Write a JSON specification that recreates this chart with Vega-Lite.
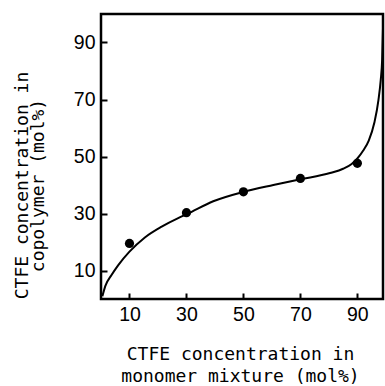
{
  "$schema": "https://vega.github.io/schema/vega-lite/v6.json",
  "autosize": {"type": "none"},
  "padding": {"left": 101, "top": 14, "right": 2, "bottom": 87},
  "width": 282,
  "height": 285,
  "background": "white",
  "config": {
    "view": {"stroke": "black", "strokeWidth": 2.5},
    "axis": {
      "domain": false,
      "grid": false,
      "labelFont": "Liberation Sans",
      "labelFontSize": 19.5,
      "labelColor": "black",
      "titleFont": "DejaVu Sans Mono",
      "titleFontSize": 18,
      "titleFontWeight": "normal",
      "titleColor": "black"
    }
  },
  "datasets": {
    "curve": [
      {"x": 0.5, "y": 1},
      {"x": 1.5, "y": 4.5},
      {"x": 3.7, "y": 8.4},
      {"x": 6, "y": 11.8},
      {"x": 10, "y": 16.6},
      {"x": 15.4, "y": 21.6},
      {"x": 21.3, "y": 25.4},
      {"x": 27.1, "y": 28.4},
      {"x": 30, "y": 29.7},
      {"x": 39.4, "y": 34.3},
      {"x": 50, "y": 37.6},
      {"x": 60.5, "y": 40},
      {"x": 70, "y": 42},
      {"x": 80.4, "y": 44.2},
      {"x": 85, "y": 45.7},
      {"x": 88, "y": 47.4},
      {"x": 90, "y": 49.3},
      {"x": 92, "y": 52},
      {"x": 94, "y": 55.6},
      {"x": 96, "y": 62},
      {"x": 97.4, "y": 69.8},
      {"x": 98.2, "y": 76.8},
      {"x": 98.7, "y": 84},
      {"x": 99, "y": 95}
    ],
    "points": [
      {"x": 10, "y": 19.5},
      {"x": 30, "y": 30.3},
      {"x": 50, "y": 37.6},
      {"x": 70, "y": 42.3},
      {"x": 90, "y": 47.6}
    ]
  },
  "layer": [
    {
      "data": {"name": "curve"},
      "mark": {"type": "line", "color": "black", "strokeWidth": 2, "interpolate": "monotone", "clip": true},
      "encoding": {
        "x": {
          "field": "x", "type": "quantitative",
          "scale": {"domain": [0, 99], "nice": false, "zero": false},
          "axis": {
            "values": [10, 30, 50, 70, 90],
            "ticks": true,
            "tickSize": 6,
            "offset": -6,
            "tickColor": "black",
            "tickWidth": 2,
            "labelPadding": 6,
            "title": ["CTFE concentration in", "monomer mixture (mol%)"],
            "titleAnchor": null,
            "titleAlign": "center",
            "titleBaseline": "alphabetic",
            "titleX": 139,
            "titleY": 66,
            "titleLineHeight": 22
          }
        },
        "y": {
          "field": "y", "type": "quantitative",
          "scale": {"domain": [0, 100], "nice": false, "zero": false},
          "axis": {
            "values": [10, 30, 50, 70, 90],
            "ticks": true,
            "tickSize": 6,
            "offset": -6,
            "tickColor": "black",
            "tickWidth": 2,
            "labelPadding": 6,
            "title": ["CTFE concentration in", "copolymer (mol%)"],
            "titleAngle": -90,
            "titleAlign": "center",
            "titleBaseline": "alphabetic",
            "titleX": -80,
            "titleY": 171,
            "titleLineHeight": 16
          }
        }
      }
    },
    {
      "data": {"name": "points"},
      "mark": {"type": "point", "filled": true, "color": "black", "opacity": 1, "size": 85},
      "encoding": {
        "x": {"field": "x", "type": "quantitative"},
        "y": {"field": "y", "type": "quantitative"}
      }
    }
  ]
}
